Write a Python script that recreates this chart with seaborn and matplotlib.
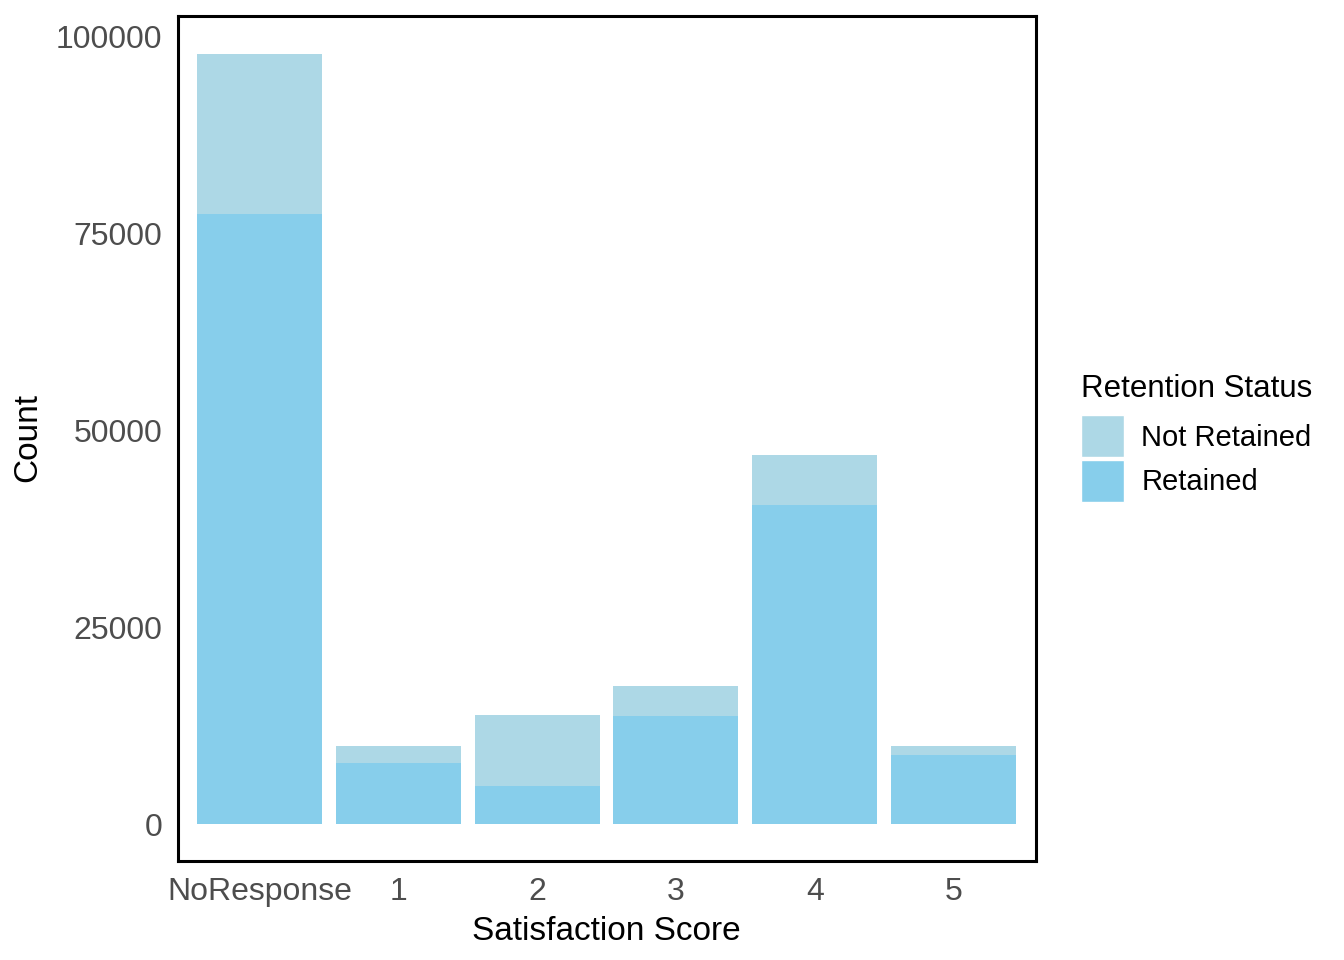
import pandas as pd
import seaborn as sns
import matplotlib.pyplot as plt
from matplotlib.patches import Patch

scores = ["NoResponse", "1", "2", "3", "4", "5"]
retained = [77500, 7800, 4900, 13700, 40600, 8800]
not_retained = [20300, 2200, 9000, 3800, 6300, 1200]

col_not = "#ADD8E6"  # lightblue
col_ret = "#87CEEB"  # skyblue

df = pd.DataFrame({"score": scores, "retained": retained, "not_retained": not_retained})
df["total"] = df["retained"] + df["not_retained"]

sns.set_style("white")
plt.rcParams["font.family"] = ["Liberation Sans", "DejaVu Sans"]

fig = plt.figure(figsize=(13.44, 9.6), dpi=100)
ax = fig.add_axes([177.5 / 1344, 1 - 860.5 / 960, (1035.5 - 177.5) / 1344, (860.5 - 15.5) / 960])

# stacked: draw totals first, then retained on top of them
sns.barplot(data=df, x="score", y="total", color=col_not, saturation=1, width=0.9, ax=ax)
sns.barplot(data=df, x="score", y="retained", color=col_ret, saturation=1, width=0.9, ax=ax)
for p in ax.patches:
    p.set_linewidth(0)

ymax = df["total"].max()
ax.set_ylim(-0.047 * ymax, 1.05 * ymax)
ax.set_xlim(-0.59, len(scores) - 0.41)
ax.set_yticks([0, 25000, 50000, 75000, 100000])
ax.set_yticklabels(["0", "25000", "50000", "75000", "100000"])
ax.tick_params(axis="both", labelsize=23, colors="#4D4D4D", length=0)
ax.tick_params(axis="y", pad=11)
ax.tick_params(axis="x", pad=12)
ax.set_xlabel("Satisfaction Score", fontsize=24, color="black", labelpad=6)
ax.set_ylabel("Count", fontsize=24, color="black", labelpad=9)
for s in ax.spines.values():
    s.set_visible(True)
    s.set_color("black")
    s.set_linewidth(2.2)
ax.grid(False)

handles = [Patch(facecolor=col_not, label="Not Retained"), Patch(facecolor=col_ret, label="Retained")]
leg = fig.legend(handles=handles, title="Retention Status", loc="upper left",
                 bbox_to_anchor=(1069 / 1344, 1 - 362 / 960), frameon=False, borderaxespad=0,
                 fontsize=21, title_fontsize=22.5, handlelength=1.47, handleheight=1.85,
                 handletextpad=0.61, labelspacing=0.08, alignment="left", labelcolor="black")
leg.get_title().set_color("black")
leg._legend_box.sep = 8.2  # a bit more room under the title than between keys

fig.savefig("out.png", dpi=100)
